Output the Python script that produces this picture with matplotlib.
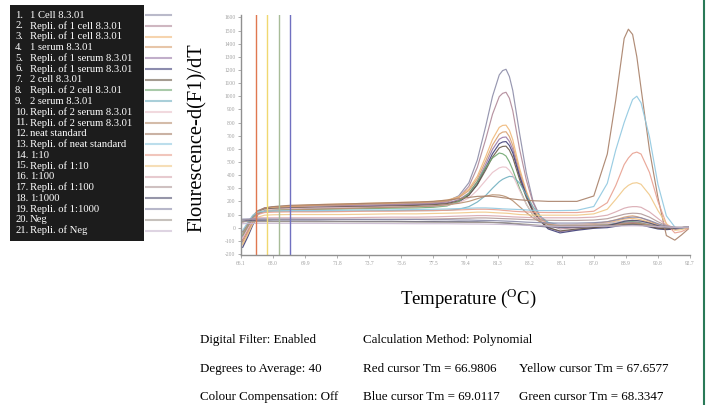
import matplotlib
matplotlib.use('Agg')
import matplotlib.pyplot as plt
from matplotlib.patches import Rectangle

plt.rcParams['font.family'] = 'Liberation Serif'
plt.rcParams['mathtext.fontset'] = 'custom'
plt.rcParams['mathtext.rm'] = 'Liberation Serif'

# Temperatur-rutnät (°C)
temps = [66.2, 66.5, 66.8, 67.1, 67.5, 68.0, 69.0, 70.5, 72.0, 73.5, 75.0, 76.5,
         77.5, 78.3, 79.0, 79.6, 80.1, 80.6, 81.0, 81.4, 81.6, 81.8, 82.0, 82.2,
         82.6, 83.0, 83.4, 83.8, 84.3, 85.0, 86.0, 87.0, 87.8, 88.3, 88.8, 89.05,
         89.3, 89.55, 89.8, 90.3, 90.8, 91.3, 91.8, 92.2, 92.6]

# Smältkurvor -d(F1)/dT
c1 = [-110, -30, 60, 120, 150, 160, 165, 170, 172, 178, 180, 185, 190, 201, 242, 342, 515, 773, 999, 1162, 1195, 1205, 1150, 1044, 720, 420, 200, 90, 30, 0, 5, 10, 20, 30, 40, 43, 45, 43, 40, 25, 10, 0, -5, 0, 5]
c2 = [-90, -10, 70, 125, 150, 155, 160, 165, 168, 170, 175, 180, 185, 195, 230, 314, 459, 674, 863, 997, 1022, 1030, 985, 890, 600, 365, 190, 85, 20, -10, 0, 10, 15, 25, 35, 38, 40, 38, 35, 20, 5, -5, -10, -5, 0]
c3 = [-130, -50, 40, 110, 145, 155, 165, 175, 180, 185, 190, 195, 200, 209, 235, 294, 391, 541, 672, 763, 778, 780, 742, 669, 453, 280, 145, 70, 25, 15, 20, 25, 35, 50, 65, 68, 70, 66, 60, 40, 20, 5, 0, 0, 5]
c4 = [-100, -20, 60, 115, 140, 150, 160, 170, 175, 180, 185, 190, 195, 203, 228, 282, 371, 509, 629, 711, 727, 730, 693, 626, 425, 265, 135, 65, 30, 20, 25, 30, 45, 60, 80, 86, 90, 84, 75, 50, 25, 5, -5, 0, 5]
c5 = [-70, 0, 70, 120, 140, 145, 150, 155, 160, 165, 170, 175, 180, 188, 212, 263, 350, 482, 596, 673, 687, 690, 656, 595, 403, 250, 125, 55, 0, -30, -15, 0, 10, 20, 30, 33, 35, 33, 30, 15, 0, -10, -10, -5, 0]
c6 = [-150, -70, 20, 100, 135, 140, 145, 150, 150, 155, 155, 160, 165, 173, 195, 247, 331, 456, 563, 639, 652, 655, 625, 569, 391, 245, 125, 55, -10, -40, -20, -5, 0, 10, 20, 23, 25, 23, 20, 5, -10, -15, -10, -5, 0]
c7 = [-100, -30, 50, 115, 140, 145, 150, 155, 158, 160, 165, 170, 175, 183, 204, 248, 326, 439, 537, 607, 618, 620, 590, 534, 368, 230, 120, 55, 0, -25, -10, 0, 10, 15, 25, 28, 30, 28, 25, 10, -5, -10, -5, 0, 0]
c8 = [-60, 10, 80, 120, 135, 138, 140, 140, 142, 145, 148, 150, 155, 165, 200, 260, 350, 460, 530, 568, 562, 545, 500, 440, 300, 180, 95, 50, 25, 15, 15, 20, 25, 35, 45, 48, 50, 46, 40, 25, 10, 0, 0, 0, 5]
c9 = [-40, 20, 80, 110, 120, 125, 125, 125, 125, 128, 130, 130, 130, 132, 140, 160, 195, 245, 300, 350, 368, 380, 390, 388, 340, 250, 160, 90, 40, 20, 20, 25, 30, 40, 50, 53, 55, 51, 45, 30, 15, 5, 0, 0, 5]
c10 = [-80, -10, 60, 115, 135, 140, 145, 150, 152, 155, 158, 160, 165, 170, 190, 225, 285, 360, 420, 455, 462, 460, 437, 400, 285, 180, 100, 55, 30, 20, 20, 25, 30, 40, 50, 53, 55, 51, 45, 30, 15, 5, 0, 0, 5]
c11 = [-50, 10, 70, 110, 125, 130, 135, 140, 145, 150, 155, 160, 165, 175, 185, 200, 220, 240, 250, 248, 243, 235, 222, 205, 160, 115, 75, 45, 25, 15, 15, 20, 20, 25, 30, 33, 35, 33, 30, 20, 10, 0, 0, 0, 0]
c12 = [-30, 30, 90, 130, 150, 160, 170, 175, 180, 185, 190, 195, 200, 210, 220, 230, 238, 240, 238, 232, 228, 225, 221, 218, 212, 208, 205, 203, 200, 200, 200, 241, 560, 970, 1440, 1510, 1470, 1300, 1060, 590, 230, -60, -95, -55, -10]
c13 = [-20, 40, 95, 120, 125, 128, 130, 130, 132, 135, 135, 138, 140, 142, 145, 148, 150, 150, 148, 145, 143, 142, 141, 140, 138, 135, 132, 130, 130, 130, 132, 161, 337, 590, 800, 890, 975, 1000, 950, 690, 330, 90, 5, -10, 0]
c14 = [-100, -30, 50, 100, 115, 118, 120, 120, 122, 125, 125, 128, 130, 132, 135, 138, 140, 140, 138, 135, 132, 130, 128, 125, 122, 120, 118, 116, 115, 115, 115, 125, 190, 320, 480, 530, 565, 575, 560, 420, 200, 30, -40, -30, -5]
c15 = [-120, -50, 30, 80, 95, 98, 100, 100, 100, 102, 105, 105, 108, 110, 112, 115, 118, 118, 115, 112, 111, 110, 108, 105, 100, 98, 95, 95, 95, 95, 95, 105, 140, 215, 295, 322, 338, 342, 330, 250, 130, 30, -20, -15, 0]
c16 = [40, 60, 70, 75, 75, 75, 75, 75, 75, 78, 80, 80, 82, 85, 88, 90, 92, 92, 90, 88, 86, 85, 84, 82, 80, 78, 76, 75, 75, 75, 75, 80, 95, 120, 148, 156, 160, 160, 155, 120, 70, 20, 0, 0, 0]
c17 = [60, 62, 62, 62, 62, 62, 62, 62, 62, 63, 64, 65, 66, 68, 70, 72, 74, 74, 72, 70, 69, 68, 67, 66, 64, 62, 60, 58, 56, 55, 55, 58, 68, 85, 102, 107, 110, 109, 105, 80, 45, 15, 0, 0, 0]
c18 = [50, 52, 52, 52, 52, 50, 50, 50, 48, 48, 48, 46, 46, 45, 45, 44, 44, 42, 40, 38, 37, 35, 33, 30, 25, 20, 15, 10, 5, 5, 5, 8, 15, 30, 48, 53, 55, 54, 50, 35, 15, 0, -5, 0, 5]
c19 = [65, 66, 66, 66, 66, 65, 65, 64, 64, 63, 62, 62, 60, 60, 58, 58, 56, 55, 54, 52, 51, 50, 49, 48, 45, 42, 40, 38, 36, 35, 35, 38, 45, 58, 72, 77, 80, 79, 75, 55, 30, 10, 0, 0, 5]
c20 = [45, 46, 46, 46, 46, 46, 46, 45, 45, 44, 44, 43, 42, 42, 41, 40, 40, 40, 39, 38, 37, 36, 35, 34, 30, 26, 22, 18, 14, 12, 12, 12, 14, 16, 18, 19, 20, 19, 18, 14, 10, 6, 4, 4, 5]
c21 = [30, 32, 32, 33, 33, 33, 33, 33, 32, 32, 31, 30, 30, 30, 29, 28, 28, 27, 26, 25, 24, 24, 23, 22, 20, 18, 16, 14, 12, 10, 10, 10, 11, 12, 13, 14, 14, 14, 13, 11, 8, 5, 3, 3, 4]

curves = [c1, c2, c3, c4, c5, c6, c7, c8, c9, c10, c11, c12, c13, c14, c15, c16,
          c17, c18, c19, c20, c21]

samples = ['1 Cell 8.3.01', 'Repli. of 1 cell 8.3.01', 'Repli. of 1 cell 8.3.01',
           '1 serum 8.3.01', 'Repli. of 1 serum 8.3.01', 'Repli. of 1 serum 8.3.01',
           '2 cell 8.3.01', 'Repli. of 2 cell 8.3.01', '2 serum 8.3.01',
           'Repli. of 2 serum 8.3.01', 'Repli. of 2 serum 8.3.01', 'neat standard',
           'Repli. of neat standard', '1:10', 'Repli. of 1:10', '1:100',
           'Repli. of 1:100', '1:1000', 'Repli. of 1:1000', 'Neg', 'Repli. of Neg']

colors = ['#8c8ca8', '#b08898', '#f0b878', '#d8a070', '#9878a8', '#404078', '#6a5a48',
          '#70a870', '#70b0c0', '#e8c0c8', '#b89070', '#a88068', '#90c8e0', '#e8a090',
          '#f0c888', '#d8a8b0', '#b09898', '#505070', '#8888a8', '#a09890', '#c8b8d0']

# Cursorer (Tm)
cursor_tm = [66.9806, 67.6577, 68.3347, 69.0117]
cursor_colors = ['#e07850', '#f0d870', '#a8bc98', '#7070c0']

xticks = [66.1, 68.0, 69.9, 71.8, 73.7, 75.6, 77.5, 79.4, 81.3, 83.2, 85.1, 87.0, 88.9, 90.8, 92.7]
yticks = list(range(-200, 1601, 100))

W, H = 714, 405
fig = plt.figure(figsize=(W / 100, H / 100), dpi=100)

ax = fig.add_axes([241 / W, (H - 255) / H, (690 - 241) / W, (255 - 15) / H])
for y, col in zip(curves, colors):
    ax.plot(temps, y, color=col, linewidth=0.85, alpha=0.9, solid_joinstyle='round')
for tm, col in zip(cursor_tm, cursor_colors):
    ax.axvline(tm, color=col, linewidth=1.0)

ax.set_xlim(66.1, 92.7)
ax.set_ylim(-208, 1618)
ax.set_xticks(xticks)
ax.set_xticklabels([f'{t:.1f}' for t in xticks])
ax.set_yticks(yticks)
ax.set_yticklabels([str(v) for v in yticks])
ax.tick_params(labelsize=4, colors='#a0a0a0', length=2, width=0.6, pad=2)
for s in ['top', 'right']:
    ax.spines[s].set_visible(False)
for s in ['left', 'bottom']:
    ax.spines[s].set_color('#909090')
    ax.spines[s].set_linewidth(1.0)

fig.text(197 / W, 1 - 138 / H, 'Flourescence-d(F1)/dT', rotation=90,
         ha='center', va='center', fontsize=14.8)
fig.text(468 / W, 1 - 298 / H, r'Temperature ($^{\mathrm{O}}$C)',
         ha='center', va='center', fontsize=13.5)

# Svart legendruta
fig.patches.append(Rectangle((10 / W, 1 - 241 / H), 134 / W, 236 / H,
                             transform=fig.transFigure, facecolor='#1c1c1c',
                             edgecolor='none'))
for i, (name, col) in enumerate(zip(samples, colors)):
    yy = 1 - (15 + i * 10.78) / H
    fig.text(15 / W, yy, f'{i + 1}.', color='white', fontsize=7.7, va='center')
    fig.text(30 / W, yy, name, color='white', fontsize=7.7, va='center')
    fig.add_artist(plt.Line2D([146 / W, 171 / W], [yy, yy], transform=fig.transFigure,
                              color=col, linewidth=1.5, alpha=0.6))

# Inställningar under diagrammet
info = [(200, 340, 'Digital Filter: Enabled'), (363, 340, 'Calculation Method: Polynomial'),
        (200, 369, 'Degrees to Average: 40'), (363, 369, 'Red cursor Tm = 66.9806'),
        (519, 369, 'Yellow cursor Tm = 67.6577'),
        (200, 397, 'Colour Compensation: Off'), (363, 397, 'Blue cursor Tm = 69.0117'),
        (519, 397, 'Green cursor Tm = 68.3347')]
for x, y, t in info:
    fig.text(x / W, 1 - y / H, t, fontsize=9.4, va='center', ha='left')

# Grön kantlinje till höger
fig.add_artist(plt.Line2D([704 / W, 704 / W], [0, 1], transform=fig.transFigure,
                          color='#2a7a58', linewidth=1.5))

fig.savefig('out.png', dpi=100)
